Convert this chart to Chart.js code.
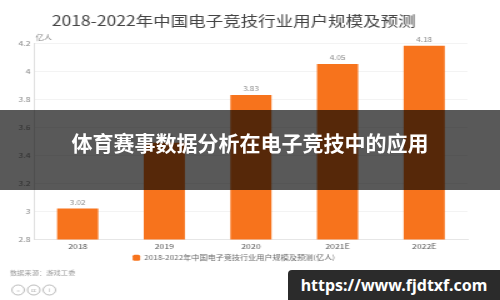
<!DOCTYPE html>
<html>
<head>
<meta charset="utf-8">
<script src="https://cdn.jsdelivr.net/npm/chart.js@4.4.0/dist/chart.umd.min.js"></script>
<style>
  html, body { margin: 0; padding: 0; background: #fff; }
  #stage { position: relative; width: 500px; height: 300px; overflow: hidden; }
  /* the source picture is stretched sideways, so the chart is drawn at 400px and scaled */
  #wrap { position: absolute; left: 0; top: 0; width: 400px; height: 300px;
          transform: scaleX(1.25); transform-origin: 0 0; }
  #band { position: absolute; left: 0; top: 110px; width: 500px; height: 80px;
          background: rgba(0, 0, 0, 0.65); color: #fff; text-align: center;
          font: bold 21px "Noto Sans CJK SC", sans-serif; line-height: 64px; }
  #url { position: absolute; left: 288px; top: 270px; width: 212px; height: 30px;
         background: #2b2b2b; border-top-left-radius: 4px; color: #fff;
         font: bold 16px "Noto Sans", sans-serif; line-height: 30px; text-align: center; }
</style>
</head>
<body>
<div id="stage">
  <div id="wrap"><canvas id="usersChart"></canvas></div>
  <div id="band">体育赛事数据分析在电子竞技中的应用</div>
  <div id="url">https://www.fjdtxf.com</div>
</div>
<script>
const years = ['2018', '2019', '2020', '2021E', '2022E'];
const users = [3.02, 3.49, 3.83, 4.05, 4.18];
const seriesName = '2018-2022年中国电子竞技行业用户规模及预测(亿人)';
const chartTitle = '2018-2022年中国电子竞技行业用户规模及预测';
const unitLabel = '亿人';
const sourceNote = '数据来源：游戏工委';

const CJK = '"Noto Sans CJK SC", "Noto Sans", sans-serif';

// valores em cima das barras + textos soltos (unidade, fonte, ícones cc)
const extras = {
    id: 'extras',
    afterDatasetsDraw(chart) {
        const ctx = chart.ctx;
        const meta = chart.getDatasetMeta(0);
        ctx.save();
        ctx.fillStyle = '#888';
        ctx.font = '6.5px ' + CJK;
        ctx.textAlign = 'center';
        ctx.textBaseline = 'bottom';
        meta.data.forEach((bar, i) => {
            ctx.fillText(users[i].toFixed(2), bar.x, bar.y - 3);
        });
        ctx.restore();
    },
    afterDraw(chart) {
        const ctx = chart.ctx;
        const area = chart.chartArea;
        ctx.save();
        ctx.fillStyle = '#888';
        ctx.font = '6.5px ' + CJK;
        ctx.textAlign = 'left';
        ctx.textBaseline = 'middle';
        ctx.fillText(unitLabel, area.left + 1, area.top - 5);

        ctx.fillStyle = '#999';
        ctx.font = '5.8px ' + CJK;
        ctx.fillText(sourceNote, 8, 273);

        ctx.strokeStyle = '#aaa';
        ctx.lineWidth = 0.8;
        ctx.textAlign = 'center';
        ctx.font = '4px ' + CJK;
        ['=', 'cc', 'i'].forEach((s, i) => {
            const cx = 14.5 + i * 12.5;
            ctx.beginPath();
            ctx.arc(cx, 290, 5, 0, Math.PI * 2);
            ctx.stroke();
            ctx.fillText(s, cx, 290);
        });
        ctx.restore();
    }
};

const ctx = document.getElementById('usersChart').getContext('2d');
new Chart(ctx, {
    type: 'bar',
    data: {
        labels: years,
        datasets: [{
            label: seriesName,
            data: users,
            backgroundColor: '#f7731c',
            categoryPercentage: 1,
            barPercentage: 0.475
        }]
    },
    options: {
        responsive: true,
        maintainAspectRatio: false,
        animation: false,
        layout: { padding: { left: 0, right: 26, bottom: 29 } },
        plugins: {
            title: {
                display: true,
                text: chartTitle,
                color: '#444',
                font: { family: CJK, size: 14, weight: 'normal' },
                padding: { top: 12.6, bottom: 13.6 }
            },
            legend: {
                position: 'bottom',
                labels: {
                    color: '#666',
                    font: { family: CJK, size: 6.5 },
                    boxWidth: 6,
                    boxHeight: 6,
                    padding: 1,
                    useBorderRadius: true,
                    borderRadius: 1.5
                }
            },
            tooltip: { enabled: false }
        },
        scales: {
            x: {
                grid: { display: false, drawTicks: false },
                border: { color: '#e6e6e6' },
                ticks: { color: '#555', font: { family: CJK, size: 7 }, padding: 3 },
                afterFit(scale) { scale.height = 14; }
            },
            y: {
                min: 2.8,
                max: 4.2,
                ticks: {
                    stepSize: 0.2,
                    color: '#888',
                    font: { family: CJK, size: 7 },
                    padding: 3,
                    callback: v => String(Math.round(v * 10) / 10)
                },
                grid: { color: '#f3f3f3', drawTicks: false },
                border: { color: '#e0e0e0' },
                afterFit(scale) { scale.width = 27.5; }
            }
        }
    },
    plugins: [extras]
});
</script>
</body>
</html>
